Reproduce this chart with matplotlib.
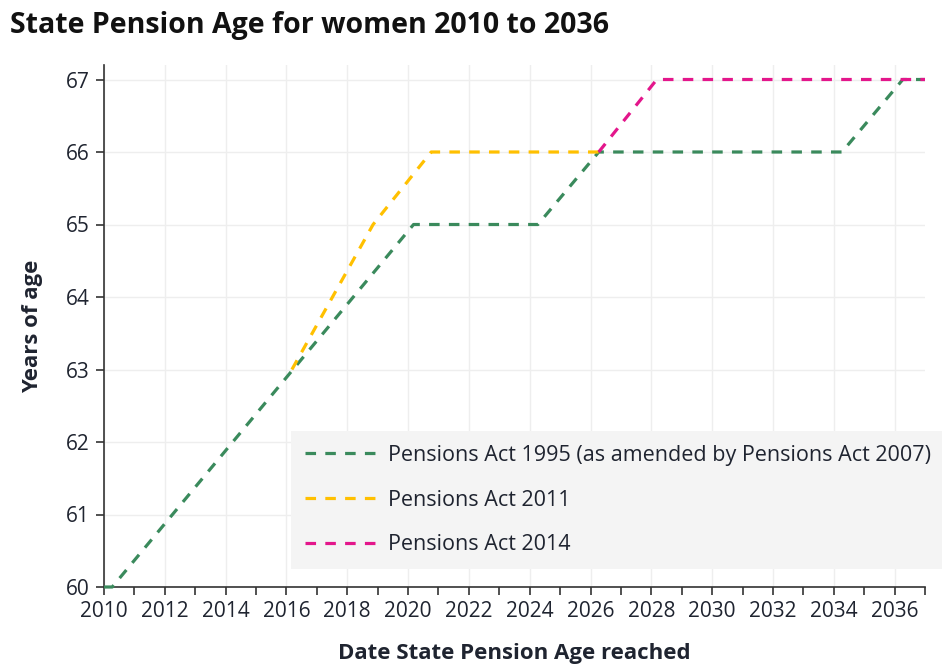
import matplotlib
matplotlib.use("Agg")
import matplotlib.pyplot as plt
from matplotlib.ticker import MultipleLocator

# State Pension Age (years) against the date it is reached
act1995_dates = [2010.0, 2010.27, 2020.18, 2024.27, 2026.27, 2034.27, 2036.27, 2037.0]
act1995_ages = [60, 60, 65, 65, 66, 66, 67, 67]

act2011_dates = [2016.18, 2018.85, 2020.76, 2026.27]
act2011_ages = [63, 65, 66, 66]

act2014_dates = [2026.27, 2028.18, 2037.0]
act2014_ages = [66, 67, 67]

series_labels = [
    "Pensions Act 1995 (as amended by Pensions Act 2007)",
    "Pensions Act 2011",
    "Pensions Act 2014",
]
series_colors = ["#3a8a5c", "#ffc000", "#e3168b"]

x_ticks = list(range(2010, 2037, 2))
y_ticks = list(range(60, 68))

plt.rcParams["font.family"] = ["Open Sans", "DejaVu Sans"]
text_color = "#1f2430"

fig = plt.figure(figsize=(9.42, 6.64), dpi=100)
ax = fig.add_axes([104 / 942, 77 / 664, (925 - 104) / 942, (587 - 65) / 664])

dash = (3.3, 2.9)
for xs, ys, lab, col in zip(
    [act1995_dates, act2011_dates, act2014_dates],
    [act1995_ages, act2011_ages, act2014_ages],
    series_labels,
    series_colors,
):
    ax.plot(xs, ys, color=col, lw=2.3, dashes=dash, label=lab,
            solid_capstyle="butt", dash_capstyle="butt", zorder=3, clip_on=False)

ax.set_xlim(2010, 2037)
ax.set_ylim(60, 67.2)
ax.set_xticks(x_ticks)
ax.xaxis.set_minor_locator(MultipleLocator(1))
ax.set_yticks(y_ticks)

ax.grid(True, which="major", color="#eeeeee", lw=1)
ax.set_axisbelow(True)
for side in ("top", "right"):
    ax.spines[side].set_visible(False)
for side in ("left", "bottom"):
    ax.spines[side].set_color("#333333")
    ax.spines[side].set_linewidth(1.2)

ax.tick_params(axis="both", which="both", direction="out", color="#333333",
               labelcolor=text_color, labelsize=15)
ax.tick_params(axis="both", which="major", length=6, width=1.2, pad=4)
ax.tick_params(axis="x", which="minor", length=6, width=1.2)

ax.set_xlabel("Date State Pension Age reached", fontsize=16, fontweight="bold",
              color=text_color, labelpad=15)
ax.set_ylabel("Years of age", fontsize=16, fontweight="bold",
              color=text_color, labelpad=17)

fig.text(10 / 942, 1 - 26 / 664, "State Pension Age for women 2010 to 2036",
         fontsize=20.5, fontweight="bold", color="#111111", va="center", ha="left")

leg = fig.legend(loc="upper left", bbox_to_anchor=(291 / 942, 1 - 431 / 664),
                 bbox_transform=fig.transFigure, frameon=True, fancybox=False,
                 fontsize=15.5, handlelength=3.3, handletextpad=0.55,
                 labelspacing=1.1, borderpad=0.65, borderaxespad=0)
leg.get_frame().set_facecolor("#f4f4f4")
leg.get_frame().set_edgecolor("none")
leg.get_frame().set_alpha(1)
for t in leg.get_texts():
    t.set_color(text_color)

fig.savefig("out.png", dpi=100)
